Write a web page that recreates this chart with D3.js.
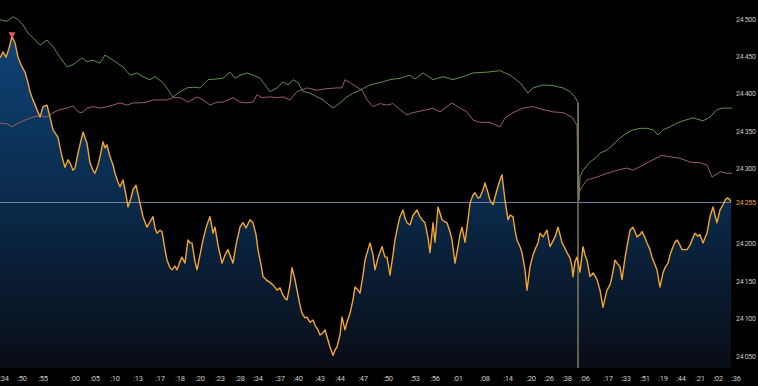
<!DOCTYPE html>
<html>
<head>
<meta charset="utf-8">
<script src="https://d3js.org/d3.v7.min.js"></script>
<style>
  html, body { margin: 0; padding: 0; background: #000; }
  svg { display: block; }
  .tick-label { font-family: Roboto, "Noto Sans", sans-serif; fill: #c9c9c9; }
</style>
</head>
<body>
<div class="chart"></div>
<script>
// price (t = bar index, v = index level)
const price = [
  [0,24448],[3,24456],[6,24449],[9,24461],[12,24477],[15,24468],[18,24449],[22,24436],[25,24429],[28,24415],
  [30,24403],[33,24392],[37,24379],[40,24369],[43,24383],[47,24385],[50,24369],[53,24352],[58,24342],[62,24316],
  [65,24302],[68,24312],[70,24308],[73,24298],[75,24301],[78,24321],[81,24338],[83,24349],[87,24334],[90,24308],
  [93,24298],[95,24294],[98,24305],[100,24316],[103,24336],[105,24328],[107,24332],[110,24316],[113,24305],[115,24294],
  [118,24282],[120,24276],[123,24285],[126,24265],[128,24249],[131,24261],[133,24272],[136,24278],[140,24254],[143,24236],
  [147,24222],[150,24229],[153,24236],[155,24221],[157,24214],[160,24218],[162,24216],[165,24192],[167,24178],[170,24168],
  [172,24165],[175,24170],[177,24165],[180,24176],[182,24182],[185,24174],[188,24205],[190,24201],[192,24201],[195,24176],
  [197,24165],[200,24185],[203,24205],[206,24221],[208,24229],[210,24236],[213,24214],[215,24222],[218,24198],[222,24174],
  [225,24185],[228,24192],[231,24181],[233,24174],[236,24198],[240,24222],[243,24228],[246,24221],[250,24232],[253,24228],
  [256,24212],[258,24192],[261,24172],[263,24156],[266,24152],[270,24148],[273,24145],[277,24138],[280,24141],[282,24134],
  [285,24127],[287,24125],[290,24145],[292,24168],[295,24152],[297,24138],[300,24118],[302,24107],[305,24101],[307,24102],
  [310,24095],[313,24098],[315,24091],[318,24085],[320,24078],[323,24081],[325,24085],[328,24071],[330,24062],[333,24051],
  [335,24058],[337,24062],[340,24078],[342,24102],[345,24085],[347,24095],[350,24107],[353,24125],[355,24142],[358,24138],
  [360,24134],[363,24158],[365,24178],[368,24192],[370,24201],[373,24185],[375,24165],[378,24181],[382,24196],[385,24182],
  [387,24182],[390,24158],[393,24185],[395,24205],[398,24225],[400,24236],[403,24245],[405,24234],[407,24228],[410,24225],
  [413,24238],[417,24245],[420,24236],[422,24232],[425,24228],[428,24208],[430,24188],[433,24228],[435,24202],[438,24249],
  [440,24241],[442,24232],[445,24229],[447,24228],[450,24216],[452,24205],[455,24174],[458,24196],[460,24212],[462,24222],
  [465,24202],[468,24232],[470,24254],[473,24265],[475,24268],[478,24261],[480,24262],[483,24272],[485,24281],[488,24268],
  [490,24258],[493,24252],[495,24262],[497,24272],[500,24285],[502,24292],[505,24258],[508,24232],[510,24238],[513,24236],
  [515,24218],[517,24205],[520,24196],[522,24188],[525,24165],[527,24138],[530,24169],[533,24185],[535,24192],[538,24201],
  [540,24214],[543,24209],[547,24218],[550,24196],[552,24201],[555,24209],[558,24222],[560,24212],[562,24201],[565,24194],
  [567,24188],[570,24181],[572,24169],[573,24156],[575,24176],[577,24182],[580,24162],[583,24196],[585,24185],[587,24178],
  [590,24156],[593,24161],[595,24157],[597,24152],[600,24138],[603,24115],[605,24127],[607,24138],[610,24145],[612,24156],
  [615,24178],[617,24174],[620,24169],[622,24152],[625,24181],[627,24196],[630,24218],[633,24222],[635,24216],[637,24209],
  [640,24212],[642,24216],[645,24208],[647,24201],[650,24192],[652,24182],[655,24172],[657,24165],[660,24142],[663,24161],
  [665,24168],[668,24174],[670,24185],[673,24196],[675,24202],[677,24205],[680,24198],[682,24192],[685,24192],[687,24192],
  [690,24198],[692,24205],[695,24214],[698,24210],[700,24212],[703,24201],[705,24208],[707,24214],[710,24236],[713,24249],
  [715,24238],[717,24228],[720,24245],[723,24252],[725,24258],[727,24261],[729,24260],[731,24256]
];

// upper reference line (green)
const upper = [
  [0,24499],[7,24497],[13,24503],[18,24499],[23,24492],[28,24481],[33,24475],[40,24465],[47,24472],[53,24463],
  [60,24449],[67,24436],[73,24439],[82,24448],[87,24443],[93,24445],[100,24441],[105,24452],[113,24445],[123,24436],
  [130,24425],[137,24428],[143,24423],[150,24419],[155,24423],[163,24415],[173,24396],[180,24403],[187,24408],[193,24409],
  [200,24408],[208,24419],[217,24420],[223,24421],[230,24429],[235,24421],[240,24425],[247,24428],[253,24425],[260,24421],
  [265,24412],[270,24403],[277,24408],[283,24416],[288,24412],[293,24419],[298,24415],[303,24403],[310,24401],[317,24396],
  [323,24392],[333,24381],[340,24388],[347,24396],[353,24401],[360,24405],[370,24412],[380,24415],[390,24419],[400,24421],
  [410,24425],[415,24420],[423,24428],[433,24419],[443,24423],[453,24419],[463,24423],[473,24428],[487,24429],[500,24431],
  [510,24425],[520,24415],[528,24401],[533,24408],[543,24412],[553,24411],[563,24408],[570,24403],[575,24396],[578,24388],
  [579,24258],[580,24289],[583,24298],[590,24309],[597,24316],[600,24321],[607,24325],[613,24332],[620,24341],[627,24348],
  [633,24352],[640,24354],[647,24354],[653,24352],[658,24345],[663,24352],[670,24356],[677,24361],[683,24364],[693,24368],
  [703,24364],[710,24369],[717,24379],[723,24381],[732,24381]
];

// lower reference line (rose)
const lower = [
  [0,24361],[7,24360],[12,24356],[18,24361],[25,24365],[33,24369],[40,24371],[47,24369],[53,24375],[60,24379],
  [67,24381],[73,24384],[78,24376],[82,24375],[87,24381],[93,24383],[100,24381],[107,24383],[113,24385],[120,24388],
  [127,24385],[133,24388],[140,24388],[147,24389],[153,24392],[160,24392],[167,24392],[173,24395],[180,24395],[188,24389],
  [197,24396],[203,24392],[210,24385],[217,24389],[223,24389],[233,24395],[240,24389],[247,24388],[253,24389],[257,24399],
  [262,24395],[270,24396],[277,24395],[283,24396],[290,24392],[297,24403],[307,24408],[317,24405],[327,24407],[337,24408],
  [342,24408],[345,24419],[350,24415],[357,24409],[362,24405],[367,24392],[373,24383],[380,24387],[387,24385],[393,24387],
  [400,24379],[407,24372],[413,24375],[420,24377],[427,24379],[433,24381],[440,24376],[452,24388],[460,24381],[467,24376],
  [473,24365],[480,24362],[490,24362],[500,24356],[505,24368],[513,24375],[523,24381],[533,24383],[543,24379],[553,24376],
  [563,24375],[572,24369],[577,24358],[578,24265],[582,24276],[587,24285],[597,24289],[607,24294],[617,24298],[627,24301],
  [633,24298],[643,24305],[653,24312],[662,24318],[670,24316],[680,24314],[690,24309],[700,24308],[707,24305],[712,24289],
  [720,24296],[727,24294],[732,24294]
];

const yTicks = [24050, 24100, 24150, 24200, 24300, 24350, 24400, 24450, 24500];
const lastPrice = 24255;
const sessionBreak = 578;
const peakBar = 12;

const xTickLabels = [":34",":50",":55",":00",":05",":10",":13",":17",":18",":20",":23",":28",":34",":37",":40",":43",":44",":47",
  ":50",":53",":56",":01",":08",":14",":20",":26",":38",":06",":17",":33",":51",":19",":44",":21",":02",":36"];
const xTickBars = [4,22,43,75,95,115,138,160,180,200,220,240,258,280,298,320,340,363,
  388,415,435,458,485,508,531,549,567,585,608,626,645,663,681,700,718,736];

const W = 758, H = 386;
const plotW = 731, plotBottom = 368;

const svg = d3.select(".chart").append("svg")
  .attr("width", W).attr("height", H)
  .style("background", "#000");

const xScale = d3.scaleLinear().domain([0, 731]).range([0, plotW]);
const yScale = d3.scaleLinear().domain([24050, 24500]).range([356, 19]);

const fmt = (v) => d3.format(",")(v).replace(",", " ");

// gradient for area
const defs = svg.append("defs");
const grad = defs.append("linearGradient")
  .attr("id", "areaGrad")
  .attr("gradientUnits", "userSpaceOnUse")
  .attr("x1", 0).attr("x2", 0).attr("y1", 30).attr("y2", plotBottom);
grad.append("stop").attr("offset", "0%").attr("stop-color", "#0f4477");
grad.append("stop").attr("offset", "50%").attr("stop-color", "#0a2a4b");
grad.append("stop").attr("offset", "100%").attr("stop-color", "#090d16");

const area = d3.area()
  .x((d) => xScale(d[0]))
  .y0(plotBottom)
  .y1((d) => yScale(d[1]));

svg.append("path").datum(price)
  .attr("d", area)
  .attr("fill", "url(#areaGrad)");

// last price line
svg.append("line")
  .attr("x1", 0).attr("x2", plotW)
  .attr("y1", yScale(lastPrice)).attr("y2", yScale(lastPrice))
  .attr("stroke", "#7584a3").attr("stroke-width", 1);

const line = d3.line()
  .x((d) => xScale(d[0]))
  .y((d) => yScale(d[1]));

svg.append("path").datum(upper)
  .attr("d", line).attr("fill", "none")
  .attr("stroke", "#5f8f4c").attr("stroke-width", 1);

svg.append("path").datum(lower)
  .attr("d", line).attr("fill", "none")
  .attr("stroke", "#9b5c63").attr("stroke-width", 1);

// session break
const breakTop = upper.find((d) => d[0] === sessionBreak)[1];
svg.append("line")
  .attr("x1", xScale(sessionBreak)).attr("x2", xScale(sessionBreak))
  .attr("y1", yScale(breakTop)).attr("y2", plotBottom)
  .attr("stroke", "#7e7a5c").attr("stroke-width", 1.5);

svg.append("path").datum(price)
  .attr("d", line).attr("fill", "none")
  .attr("stroke", "#f3a72c").attr("stroke-width", 1.4)
  .attr("stroke-linejoin", "round");

// high marker
const peak = price.find((d) => d[0] === peakBar);
svg.append("path")
  .attr("d", d3.symbol().type(d3.symbolTriangle).size(22))
  .attr("transform", `translate(${xScale(peak[0])},${yScale(peak[1]) - 2}) rotate(180)`)
  .attr("fill", "#e0605a");

// y axis labels on right
svg.selectAll(".ylab").data(yTicks)
  .enter().append("text")
  .attr("class", "tick-label")
  .attr("x", 736)
  .attr("y", (d) => yScale(d) + 2.5)
  .attr("font-size", "7px")
  .attr("letter-spacing", "-0.3px")
  .text((d) => fmt(d));

svg.append("text")
  .attr("class", "tick-label")
  .attr("x", 736)
  .attr("y", yScale(lastPrice) + 2.5)
  .attr("font-size", "7px")
  .attr("letter-spacing", "-0.3px")
  .style("fill", "#f0a534")
  .text(fmt(lastPrice));

// x axis labels
svg.selectAll(".xlab").data(xTickLabels)
  .enter().append("text")
  .attr("class", "tick-label")
  .attr("x", (d, i) => xScale(xTickBars[i]))
  .attr("y", 381)
  .attr("text-anchor", "middle")
  .attr("font-size", "7.5px")
  .attr("letter-spacing", "-0.2px")
  .text((d) => d);
</script>
</body>
</html>
